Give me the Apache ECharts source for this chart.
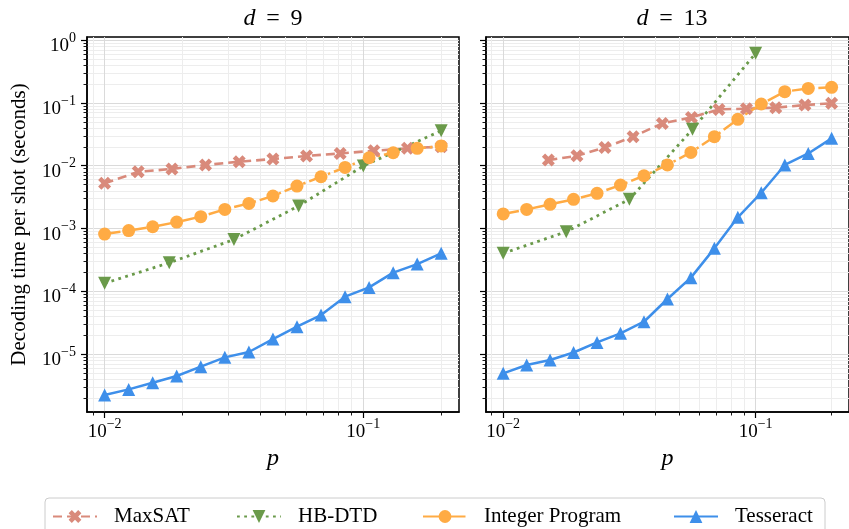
<!DOCTYPE html>
<html><head><meta charset="utf-8">
<script src="https://cdn.jsdelivr.net/npm/echarts@6/dist/echarts.min.js"></script>
<style>html,body{margin:0;padding:0;background:#fff}#c{width:849px;height:529px}</style>
</head><body><div id="c"></div>
<script>
// ---------------- data ----------------
const seriesNames = ['MaxSAT', 'HB-DTD', 'Integer Program', 'Tesseract'];
const panelTitles = ['9', '13'];
const xTickValues = [0.01, 0.1];
const xMinorValues = [0.009, 0.02, 0.03, 0.04, 0.05, 0.06, 0.07, 0.08, 0.09, 0.2];
const yTickValues = [1e-5, 1e-4, 1e-3, 1e-2, 1e-1, 1];
const yMinorValues = [2e-6,3e-6,4e-6,5e-6,6e-6,7e-6,8e-6,9e-6,
  2e-5,3e-5,4e-5,5e-5,6e-5,7e-5,8e-5,9e-5,
  2e-4,3e-4,4e-4,5e-4,6e-4,7e-4,8e-4,9e-4,
  2e-3,3e-3,4e-3,5e-3,6e-3,7e-3,8e-3,9e-3,
  2e-2,3e-2,4e-2,5e-2,6e-2,7e-2,8e-2,9e-2,
  2e-1,3e-1,4e-1,5e-1,6e-1,7e-1,8e-1,9e-1];

const pFine = [0.01, 0.01239, 0.01534, 0.01900, 0.02354, 0.02916, 0.03612, 0.04474, 0.05542, 0.06865, 0.08503, 0.1053, 0.1305, 0.1616, 0.2];
const pMaxSAT9 = [0.01, 0.01349, 0.01821, 0.02456, 0.03314, 0.04472, 0.06034, 0.08141, 0.1099, 0.1482, 0.2];
const pMaxSAT13 = [0.0151, 0.0196, 0.0253, 0.0327, 0.0427, 0.0557, 0.0716, 0.092, 0.1202, 0.1568, 0.2];
const pHB9 = [0.01, 0.01778, 0.03162, 0.05623, 0.1, 0.2];
const pHB13 = [0.01, 0.01778, 0.03162, 0.05623, 0.1];

const maxsat9 = [5.25e-3, 8.0e-3, 8.9e-3, 1.03e-2, 1.16e-2, 1.28e-2, 1.43e-2, 1.57e-2, 1.73e-2, 1.89e-2, 2.01e-2];
const hbdtd9 = [1.35e-4, 2.86e-4, 6.7e-4, 2.29e-3, 9.9e-3, 3.6e-2];
const ip9 = [8.2e-4, 9.3e-4, 1.07e-3, 1.27e-3, 1.55e-3, 2.02e-3, 2.52e-3, 3.30e-3, 4.75e-3, 6.68e-3, 9.4e-3, 1.34e-2, 1.61e-2, 1.89e-2, 2.06e-2];
const tess9 = [2.25e-6, 2.77e-6, 3.54e-6, 4.52e-6, 6.36e-6, 8.95e-6, 1.09e-5, 1.75e-5, 2.75e-5, 4.22e-5, 8.26e-5, 1.16e-4, 1.99e-4, 2.73e-4, 4.04e-4];

const maxsat13 = [1.23e-2, 1.44e-2, 1.96e-2, 2.90e-2, 4.72e-2, 5.88e-2, 7.88e-2, 8.09e-2, 8.39e-2, 9.25e-2, 9.84e-2];
const hbdtd13 = [4.04e-4, 8.93e-4, 2.92e-3, 3.79e-2, 0.614];
const ip13 = [1.71e-3, 2.02e-3, 2.43e-3, 2.92e-3, 3.64e-3, 4.93e-3, 6.94e-3, 1.03e-2, 1.63e-2, 2.90e-2, 5.47e-2, 9.59e-2, 0.151, 0.170, 0.177];
const tess13 = [4.98e-6, 6.76e-6, 8.12e-6, 1.07e-5, 1.55e-5, 2.16e-5, 3.30e-5, 7.59e-5, 1.66e-4, 4.85e-4, 1.51e-3, 3.72e-3, 1.03e-2, 1.57e-2, 2.73e-2];

// ---------------- styling ----------------
const FONT = '"Liberation Serif", "DejaVu Serif", serif';
const colors = {'MaxSAT': '#d98a7b', 'HB-DTD': '#6a9a4a', 'Integer Program': '#ffab44', 'Tesseract': '#3e8fea'};
const xMin = 0.00855, xMax = 0.2344;
const yMin = 1.21e-6, yMax = 1.117;
const XSYM = 'path://M-1,-2L0,-1L1,-2L2,-1L1,0L2,1L1,2L0,1L-1,2L-2,1L-1,0L-2,-1Z';

function zip(xs, ys) { return xs.map((x, i) => [x, ys[i]]); }
function powLabel(v) {
  const e = Math.round(Math.log10(v));
  return '{n|10}{s|' + (e < 0 ? '\u2212' : '') + Math.abs(e) + '}';
}
const labelRich = {
  n: {fontFamily: FONT, fontSize: 19, lineHeight: 30, color: '#000'},
  s: {fontFamily: FONT, fontSize: 14, lineHeight: 14, verticalAlign: 'top', color: '#000'}
};

const grids = [
  {left: 87, right: 390, top: 37, bottom: 117, show: true, borderColor: '#000', borderWidth: 1.5, backgroundColor: 'transparent'},
  {left: 486, right: -9, top: 37, bottom: 117, show: true, borderColor: '#000', borderWidth: 1.5, backgroundColor: 'transparent'}
];

const xAxes = [], yAxes = [];
[0, 1].forEach(g => {
  xAxes.push({
    type: 'log', gridIndex: g, min: xMin, max: xMax, position: 'bottom',
    axisLine: {show: true, lineStyle: {color: '#000', width: 1.5}},
    axisTick: {show: true, length: 6, customValues: xTickValues, lineStyle: {color: '#000', width: 1.2}},
    axisLabel: {show: true, customValues: xTickValues, formatter: powLabel, rich: labelRich, margin: 5},
    splitLine: {show: true, lineStyle: {color: '#dadada', width: 1}},
    minorTick: {show: false}, minorSplitLine: {show: false},
    name: 'p', nameLocation: 'middle', nameGap: 31,
    nameTextStyle: {fontFamily: FONT, fontSize: 24, fontStyle: 'italic', color: '#000'}
  });
  xAxes.push({
    type: 'log', gridIndex: g, min: xMin, max: xMax, position: 'bottom',
    axisLine: {show: false},
    axisTick: {show: true, length: 3.5, customValues: xMinorValues, lineStyle: {color: '#000', width: 0.9}},
    axisLabel: {show: false},
    splitLine: {show: true, lineStyle: {color: '#ededed', width: 1}},
    minorTick: {show: false}
  });
  yAxes.push({
    type: 'log', gridIndex: g, min: yMin, max: yMax, position: 'left',
    axisLine: {show: true, lineStyle: {color: '#000', width: 1.5}},
    axisTick: {show: true, length: 6, customValues: yTickValues, lineStyle: {color: '#000', width: 1.2}},
    axisLabel: {show: g === 0, customValues: yTickValues, formatter: powLabel, rich: labelRich, margin: 11, padding: [12, 0, 0, 0]},
    splitLine: {show: true, lineStyle: {color: '#dadada', width: 1}},
    minorTick: {show: false}, minorSplitLine: {show: false},
    name: g === 0 ? 'Decoding time per shot (seconds)' : '', nameLocation: 'middle', nameGap: 57, nameRotate: 90,
    nameTextStyle: {fontFamily: FONT, fontSize: 21, color: '#000'}
  });
  yAxes.push({
    type: 'log', gridIndex: g, min: yMin, max: yMax, position: 'left',
    axisLine: {show: false},
    axisTick: {show: true, length: 3.5, customValues: yMinorValues, lineStyle: {color: '#000', width: 0.9}},
    axisLabel: {show: false},
    splitLine: {show: true, lineStyle: {color: '#ededed', width: 1}},
    minorTick: {show: false}
  });
});

const styleOf = {
  'MaxSAT': {symbol: XSYM, symbolSize: 13, symbolRotate: 0, lineStyle: {type: [9, 5], width: 2.6}},
  'HB-DTD': {symbol: 'triangle', symbolSize: 13, symbolRotate: 180, lineStyle: {type: [2.8, 4.4], width: 2.8}},
  'Integer Program': {symbol: 'circle', symbolSize: 13, symbolRotate: 0, lineStyle: {type: [16, 4, 2.5, 4], width: 2.5}},
  'Tesseract': {symbol: 'triangle', symbolSize: 13, symbolRotate: 0, lineStyle: {type: 'solid', width: 2.5}}
};
const panelData = [
  {'MaxSAT': zip(pMaxSAT9, maxsat9), 'HB-DTD': zip(pHB9, hbdtd9), 'Integer Program': zip(pFine, ip9), 'Tesseract': zip(pFine, tess9)},
  {'MaxSAT': zip(pMaxSAT13, maxsat13), 'HB-DTD': zip(pHB13, hbdtd13), 'Integer Program': zip(pFine, ip13), 'Tesseract': zip(pFine, tess13)}
];
const series = [];
[0, 1].forEach(g => {
  seriesNames.forEach(name => {
    const st = styleOf[name];
    series.push({
      type: 'line', name, xAxisIndex: g * 2, yAxisIndex: g * 2,
      data: panelData[g][name],
      symbol: st.symbol, symbolSize: st.symbolSize, symbolRotate: st.symbolRotate, showSymbol: true,
      lineStyle: Object.assign({color: colors[name]}, st.lineStyle),
      itemStyle: {color: colors[name], borderWidth: 0},
      emphasis: {disabled: true}, silent: true, animation: false
    });
  });
});

const legendTextWidths = {'MaxSAT': 80, 'HB-DTD': 82, 'Integer Program': 147, 'Tesseract': 81};

const titleRich = {
  i: {fontFamily: FONT, fontSize: 24, fontStyle: 'italic', color: '#000'},
  n: {fontFamily: FONT, fontSize: 24, color: '#000'}
};
const titleCenters = [273, 672];

const chart = echarts.init(document.getElementById('c'), null, {renderer: 'canvas'});
chart.setOption({
  backgroundColor: '#fff',
  animation: false,
  grid: grids,
  xAxis: xAxes,
  yAxis: yAxes,
  series,
  legend: {
    left: 45, top: 498, orient: 'horizontal',
    itemWidth: 44, itemHeight: 16, itemGap: 42,
    padding: [8, 9, 22, 7],
    borderColor: '#cccccc', borderWidth: 1, borderRadius: 4, backgroundColor: '#fff',
    selectedMode: false,
    textStyle: {fontFamily: FONT, fontSize: 21, color: '#000', lineHeight: 16, padding: [0, 0, 0, 12]},
    data: seriesNames.map(n => ({name: n, textStyle: {width: legendTextWidths[n]}}))
  },
  graphic: panelTitles.map((t, i) => ({
    type: 'text', x: titleCenters[i], y: 19, silent: true,
    style: {text: '{i|d}{n|\u2009 = \u2009' + t + '}', rich: titleRich, align: 'center', verticalAlign: 'middle'}
  }))
});
</script></body></html>
